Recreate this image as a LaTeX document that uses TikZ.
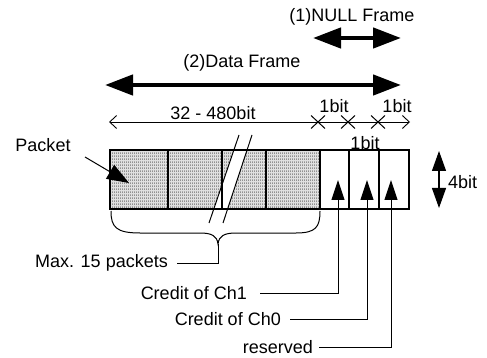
\documentclass[tikz,border=0pt]{standalone}
\usepackage{fontspec}
\setmainfont{Liberation Sans}
\usetikzlibrary{arrows.meta,patterns}
\pgfdeclarepatternformonly{pktdots}{\pgfpointorigin}{\pgfpoint{2pt}{3pt}}{\pgfpoint{2pt}{3pt}}{%
  \pgfpathrectangle{\pgfpointorigin}{\pgfpoint{1pt}{2pt}}\pgfusepath{fill}}
\begin{document}
\begin{tikzpicture}[x=1pt,y=-1pt,
  lbl/.style={inner sep=0pt,font=\fontsize{18}{21}\selectfont},
  bigarrow/.style={line width=4.5pt,{Triangle[length=28pt,width=20pt]}-{Triangle[length=28pt,width=20pt]}},
  dimline/.style={line width=0.8pt,{Straight Barb[length=7pt,width=13pt,line width=0.9pt]}-{Straight Barb[length=7pt,width=13pt,line width=0.9pt]}},
  uparrow/.style={line width=1pt,-{Triangle[length=20pt,width=13pt]}},
  vdarrow/.style={line width=1.2pt,{Triangle[length=20pt,width=14pt]}-{Triangle[length=20pt,width=14pt]}},
  ptr/.style={line width=1pt,-{Triangle[length=22pt,width=16pt]}},
  thin/.style={line width=1pt},
  cellline/.style={line width=1.1pt}]
\useasboundingbox (0,0) rectangle (487,358);

% frame arrows
\node[lbl] (nulltxt) at (352,17) {(1)NULL Frame};
\coordinate (nullL) at (313,38);
\coordinate (nullR) at (401,38);
\draw[bigarrow] (nullL) -- (nullR);
\node[lbl] (datatxt) at (242,63) {(2)Data Frame};
\coordinate (dataL) at (105,85);
\coordinate (dataR) at (401,85);
\draw[bigarrow] (dataL) -- (dataR);

% dimension line
\node[lbl] (len) at (213,113) {32 - 480bit};
\node[lbl] (b1) at (334,106) {1bit};
\node[lbl] (b2) at (397,106) {1bit};
\coordinate (dimL) at (109,122);
\coordinate (dimR) at (410,122);
\draw[dimline] (dimL) -- (dimR);
\foreach \xx in {318,348,378}{
  \draw[thin] (\xx-7,115.5) -- (\xx+7,128.5);
  \draw[thin] (\xx-7,128.5) -- (\xx+7,115.5);
}

% frame box
\fill[black!12] (110,150) rectangle (320,209);
\fill[pattern=pktdots,pattern color=black!60] (110,150) rectangle (320,209);
\fill[white] (233.9,150) -- (247,150) -- (227.6,209) -- (213.8,209) -- cycle;
\draw[cellline] (168,150) -- (168,209);
\draw[cellline] (222,150) -- (222,209);
\draw[cellline] (266,150) -- (266,209);
\draw[cellline] (320,150) -- (320,209);
\draw[cellline] (349,150) -- (349,209);
\draw[cellline] (379,150) -- (379,209);
\draw[line width=1.3pt] (110,150) rectangle (409,209);
\draw[thin] (239,135) -- (209,223);
\draw[thin] (252,135) -- (223,223);
\node[lbl] (b3) at (365,143) {1bit};

% packet pointer
\node[lbl] (pkt) at (43,145) {Packet};
\coordinate (pktTip) at (129,183);
\draw[ptr] (85,157) -- (pktTip);

% 4bit
\coordinate (fbT) at (439,151);
\coordinate (fbB) at (439,208);
\draw[vdarrow] (fbT) -- (fbB);
\node[lbl,anchor=west] (fb) at (448,182) {4bit};

% brace
\draw[thin] (111,211) .. controls (111,227) and (116,233) .. (140,233)
  -- (200,233) .. controls (212,233) and (217,236) .. (218,244)
  .. controls (219,236) and (224,233) .. (236,233)
  -- (296,233) .. controls (316,233) and (320,227) .. (320,211);
\coordinate (brTip) at (218,244);
\node[lbl,anchor=east] (maxp) at (168,263) {Max. 15 packets};
\draw[thin] (brTip) -- (218,263) -- (177,263);

% credit arrows
\node[lbl,anchor=east] (ch1) at (247,293) {Credit of Ch1};
\node[lbl,anchor=east] (ch0) at (281,319) {Credit of Ch0};
\node[lbl,anchor=east] (res) at (313,347) {reserved};
\coordinate (a1) at (338,180);
\coordinate (a2) at (367,180);
\coordinate (a3) at (391,180);
\draw[uparrow] (260,293) -- (338,293) -- (a1);
\draw[uparrow] (290,319) -- (367,319) -- (a2);
\draw[uparrow] (319,347) -- (391,347) -- (a3);
\end{tikzpicture}
\end{document}
